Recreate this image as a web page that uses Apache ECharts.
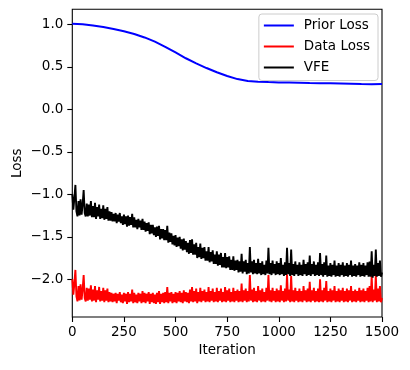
<!DOCTYPE html>
<html>
<head>
<meta charset="utf-8">
<script src="https://cdn.jsdelivr.net/npm/echarts@6/dist/echarts.min.js"></script>
<style>
  html, body { margin: 0; padding: 0; background: #fff; }
  #chart { width: 410px; height: 370px; }
</style>
</head>
<body>
<div id="chart"></div>
<script>
// prior read every 50 iterations, the noisy curves every 5
var priorIters = [0, 50, 100, 150, 200, 250, 300, 350, 400, 450, 500, 550, 600, 650, 700, 750,
  800, 850, 900, 950, 1000, 1050, 1100, 1150, 1200, 1250, 1300, 1350, 1400, 1450, 1500];
var priorLoss = [1.005, 1.000, 0.985, 0.968, 0.945, 0.918, 0.886, 0.845, 0.795, 0.735, 0.668,
  0.600, 0.540, 0.485, 0.435, 0.392, 0.355, 0.333, 0.325, 0.320, 0.316, 0.314, 0.312, 0.308,
  0.306, 0.305, 0.303, 0.300, 0.296, 0.295, 0.297];

var iters = [];
for (var k = 0; k <= 1500; k += 5) iters.push(k);

var dataLoss = [
  -2.00, -2.18, -2.05, -1.89, -2.20, -2.26, -2.08, -2.25, -2.06, -2.24,
  -2.12, -1.95, -2.22, -2.26, -2.10, -2.25, -2.11, -2.24, -2.07, -2.26,
  -2.12, -2.25, -2.08, -2.27, -2.13, -2.24, -2.09, -2.26, -2.14, -2.25,
  -2.10, -2.27, -2.13, -2.25, -2.11, -2.27, -2.15, -2.26, -2.16, -2.27,
  -2.17, -2.26, -2.16, -2.28, -2.17, -2.25, -2.15, -2.27, -2.18, -2.28,
  -2.16, -2.26, -2.17, -2.29, -2.15, -2.27, -2.17, -2.26, -2.12, -2.28,
  -2.16, -2.27, -2.18, -2.28, -2.16, -2.26, -2.17, -2.28, -2.14, -2.27,
  -2.16, -2.28, -2.17, -2.26, -2.15, -2.29, -2.17, -2.27, -2.16, -2.28,
  -2.18, -2.29, -2.16, -2.27, -2.14, -2.29, -2.17, -2.27, -2.16, -2.28,
  -2.15, -2.27, -2.09, -2.28, -2.16, -2.26, -2.15, -2.28, -2.17, -2.27,
  -2.15, -2.28, -2.16, -2.26, -2.14, -2.27, -2.16, -2.28, -2.13, -2.26,
  -2.15, -2.27, -2.16, -2.28, -2.12, -2.26, -2.09, -2.27, -2.14, -2.26,
  -2.11, -2.28, -2.15, -2.26, -2.10, -2.27, -2.14, -2.25, -2.12, -2.27,
  -2.15, -2.26, -2.09, -2.27, -2.14, -2.25, -2.11, -2.27, -2.15, -2.26,
  -2.10, -2.27, -2.14, -2.25, -2.11, -2.27, -2.15, -2.26, -2.09, -2.27,
  -2.13, -2.25, -2.11, -2.27, -2.15, -2.26, -2.10, -2.27, -2.14, -2.25,
  -2.12, -2.27, -2.14, -2.26, -2.05, -2.27, -2.13, -2.25, -2.11, -2.27,
  -2.14, -2.26, -1.95, -2.25, -2.12, -2.27, -2.10, -2.26, -2.14, -2.27,
  -2.08, -2.25, -2.13, -2.27, -2.11, -2.26, -2.15, -2.27, -2.10, -2.25,
  -1.95, -2.26, -2.13, -2.27, -2.10, -2.25, -2.14, -2.27, -2.11, -2.26,
  -2.13, -2.27, -2.07, -2.25, -2.14, -2.27, -2.11, -2.26, -1.94, -2.25,
  -2.12, -2.27, -1.96, -2.26, -2.13, -2.27, -2.10, -2.25, -2.14, -2.27,
  -2.11, -2.26, -2.14, -2.27, -2.08, -2.25, -2.13, -2.27, -2.11, -2.26,
  -2.03, -2.27, -2.13, -2.25, -2.10, -2.27, -2.14, -2.26, -2.11, -2.27,
  -2.00, -2.26, -2.13, -2.27, -2.10, -2.25, -2.02, -2.27, -2.14, -2.26,
  -2.11, -2.27, -2.13, -2.25, -2.08, -2.27, -2.14, -2.26, -2.11, -2.27,
  -2.13, -2.25, -2.10, -2.27, -2.14, -2.26, -2.11, -2.27, -2.13, -2.25,
  -2.08, -2.27, -2.14, -2.26, -2.12, -2.27, -2.14, -2.25, -2.10, -2.27,
  -2.13, -2.26, -2.11, -2.27, -2.14, -2.25, -2.10, -2.27, -2.08, -2.26,
  -1.96, -2.27, -2.12, -2.25, -1.95, -2.27, -2.11, -2.26, -2.08, -2.27,
  -2.22
];

var vfe = [
  -1.00, -1.18, -1.05, -0.89, -1.20, -1.26, -1.08, -1.25, -1.06, -1.24,
  -1.12, -0.95, -1.22, -1.26, -1.11, -1.26, -1.12, -1.25, -1.08, -1.27,
  -1.14, -1.27, -1.10, -1.29, -1.15, -1.26, -1.12, -1.29, -1.17, -1.28,
  -1.13, -1.30, -1.17, -1.29, -1.15, -1.31, -1.20, -1.31, -1.21, -1.32,
  -1.23, -1.32, -1.22, -1.34, -1.24, -1.32, -1.22, -1.34, -1.26, -1.36,
  -1.24, -1.35, -1.26, -1.38, -1.25, -1.37, -1.27, -1.36, -1.23, -1.39,
  -1.27, -1.39, -1.30, -1.41, -1.29, -1.39, -1.31, -1.42, -1.29, -1.42,
  -1.32, -1.44, -1.34, -1.43, -1.33, -1.47, -1.36, -1.46, -1.36, -1.48,
  -1.39, -1.50, -1.38, -1.49, -1.37, -1.53, -1.41, -1.52, -1.41, -1.54,
  -1.42, -1.54, -1.37, -1.57, -1.45, -1.56, -1.46, -1.59, -1.49, -1.60,
  -1.48, -1.62, -1.51, -1.61, -1.50, -1.64, -1.53, -1.66, -1.52, -1.65,
  -1.55, -1.68, -1.57, -1.70, -1.54, -1.69, -1.53, -1.71, -1.59, -1.71,
  -1.57, -1.75, -1.62, -1.74, -1.58, -1.76, -1.63, -1.75, -1.62, -1.78,
  -1.67, -1.78, -1.62, -1.80, -1.68, -1.79, -1.66, -1.82, -1.71, -1.82,
  -1.67, -1.84, -1.71, -1.83, -1.69, -1.86, -1.74, -1.86, -1.69, -1.87,
  -1.74, -1.86, -1.73, -1.89, -1.77, -1.89, -1.73, -1.90, -1.78, -1.89,
  -1.77, -1.92, -1.79, -1.91, -1.70, -1.93, -1.79, -1.91, -1.77, -1.94,
  -1.81, -1.93, -1.62, -1.92, -1.79, -1.94, -1.77, -1.93, -1.81, -1.94,
  -1.76, -1.93, -1.81, -1.95, -1.79, -1.94, -1.83, -1.95, -1.78, -1.93,
  -1.63, -1.94, -1.81, -1.95, -1.78, -1.93, -1.82, -1.95, -1.79, -1.94,
  -1.81, -1.95, -1.75, -1.94, -1.83, -1.96, -1.80, -1.95, -1.63, -1.94,
  -1.81, -1.96, -1.65, -1.95, -1.82, -1.96, -1.79, -1.94, -1.83, -1.96,
  -1.80, -1.95, -1.83, -1.96, -1.77, -1.94, -1.82, -1.96, -1.80, -1.95,
  -1.72, -1.96, -1.82, -1.94, -1.79, -1.96, -1.83, -1.95, -1.80, -1.96,
  -1.69, -1.95, -1.82, -1.97, -1.80, -1.95, -1.72, -1.97, -1.84, -1.96,
  -1.81, -1.97, -1.83, -1.95, -1.78, -1.97, -1.84, -1.96, -1.81, -1.97,
  -1.83, -1.95, -1.80, -1.97, -1.84, -1.96, -1.81, -1.97, -1.83, -1.95,
  -1.78, -1.97, -1.84, -1.96, -1.82, -1.97, -1.84, -1.95, -1.80, -1.97,
  -1.83, -1.96, -1.81, -1.97, -1.84, -1.95, -1.80, -1.97, -1.79, -1.97,
  -1.67, -1.98, -1.83, -1.96, -1.65, -1.97, -1.81, -1.96, -1.78, -1.97,
  -1.92
];

var xTicks = [0, 250, 500, 750, 1000, 1250, 1500];
var yTicks = [-2.0, -1.5, -1.0, -0.5, 0.0, 0.5, 1.0];

function pairs(xs, ys) {
  return xs.map(function (x, i) { return [x, ys[i]]; });
}

var font = 'DejaVu Sans';
var fs = 13.5;
var chart = echarts.init(document.getElementById('chart'), null, { renderer: 'canvas' });
chart.setOption({
  animation: false,
  backgroundColor: '#fff',
  textStyle: { fontFamily: font },
  grid: {
    left: 72.3, right: 28, top: 9.3, bottom: 53,
    containLabel: false, outerBoundsMode: 'none',
    show: true, borderColor: '#000', borderWidth: 1.1, backgroundColor: 'transparent'
  },
  legend: {
    orient: 'vertical',
    right: 32, top: 14,
    padding: [4.5, 8, 6, 5],
    itemGap: 7,
    itemWidth: 30, itemHeight: 2,
    icon: 'rect',
    backgroundColor: 'rgba(255,255,255,0.8)',
    borderColor: '#cccccc', borderWidth: 1, borderRadius: 3,
    textStyle: { fontFamily: font, fontSize: fs, color: '#000', padding: [0, 0, 0, 5] },
    data: ['Prior Loss', 'Data Loss', 'VFE']
  },
  xAxis: {
    type: 'value', min: 0, max: 1500,
    name: 'Iteration', nameLocation: 'middle', nameGap: 26, nameMoveOverlap: false,
    nameTextStyle: { fontFamily: font, fontSize: fs, color: '#000' },
    axisLine: { show: false, onZero: false },
    axisTick: { show: true, length: 5, lineStyle: { color: '#000', width: 1.1 }, customValues: xTicks },
    axisLabel: {
      fontFamily: font, fontSize: fs, color: '#000', margin: 8.5, customValues: xTicks,
      formatter: function (v) { return String(v); }
    },
    splitLine: { show: false }
  },
  yAxis: {
    type: 'value', min: -2.4435, max: 1.176,
    name: 'Loss', nameLocation: 'middle', nameGap: 48, nameRotate: 90, nameMoveOverlap: false,
    nameTextStyle: { fontFamily: font, fontSize: fs, color: '#000' },
    axisLine: { show: false, onZero: false },
    axisTick: { show: true, length: 5, lineStyle: { color: '#000', width: 1.1 }, customValues: yTicks },
    axisLabel: {
      fontFamily: font, fontSize: fs, color: '#000', margin: 9, customValues: yTicks,
      formatter: function (v) { return (v < 0 ? '\u2212' : '') + Math.abs(v).toFixed(1); }
    },
    splitLine: { show: false }
  },
  series: [
    { name: 'Prior Loss', type: 'line', showSymbol: false, symbol: 'none', color: '#0000ff',
      lineStyle: { width: 2, color: '#0000ff' }, data: pairs(priorIters, priorLoss) },
    { name: 'Data Loss', type: 'line', showSymbol: false, symbol: 'none', color: '#ff0000',
      lineStyle: { width: 1.9, color: '#ff0000' }, data: pairs(iters, dataLoss) },
    { name: 'VFE', type: 'line', showSymbol: false, symbol: 'none', color: '#000000',
      lineStyle: { width: 1.9, color: '#000000' }, data: pairs(iters, vfe) }
  ]
});
</script>
</body>
</html>
